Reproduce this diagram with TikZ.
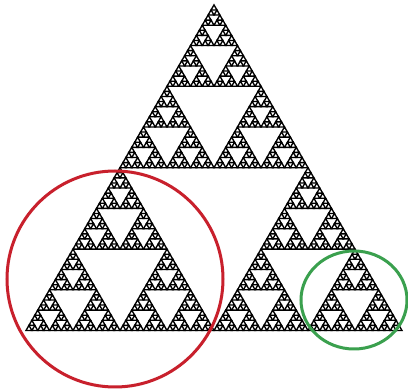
\documentclass[tikz,border=0pt]{standalone}
\usetikzlibrary{calc,shapes.geometric}
\definecolor{ringred}{RGB}{200,32,44}
\definecolor{ringgreen}{RGB}{58,160,78}
\tikzset{
  tri/.style={draw=black, line width=1.35pt},
  ring/.style={line width=3pt}
}
\newcommand\sierp[4]{%
  \ifnum#4=0
    \draw[tri] (#1,#2) -- ++(#3,0) -- ++(-#3/2,-#3*0.8660254) -- cycle;
  \else
    \begingroup
    \pgfmathsetmacro\hs{#3/2}%
    \pgfmathtruncatemacro\nd{#4-1}%
    \pgfmathsetmacro\xb{#1+\hs}%
    \pgfmathsetmacro\xc{#1+\hs/2}%
    \pgfmathsetmacro\yc{#2-\hs*0.8660254}%
    \edef\next{\noexpand\sierp{#1}{#2}{\hs}{\nd}%
      \noexpand\sierp{\xb}{#2}{\hs}{\nd}%
      \noexpand\sierp{\xc}{\yc}{\hs}{\nd}}%
    \next
    \endgroup
  \fi}
\begin{document}
\begin{tikzpicture}[x=1pt,y=-1pt]
\useasboundingbox[fill=white] (0,0) rectangle (408,390);
\sierp{26}{330.5}{376}{6}
\node[draw=ringred, ring, circle, minimum size=216pt, inner sep=0pt] (red) at (115,279) {};
\node[draw=ringgreen, ring, ellipse, minimum width=106pt, minimum height=98pt, inner sep=0pt] (green) at (354,300) {};
\end{tikzpicture}
\end{document}
